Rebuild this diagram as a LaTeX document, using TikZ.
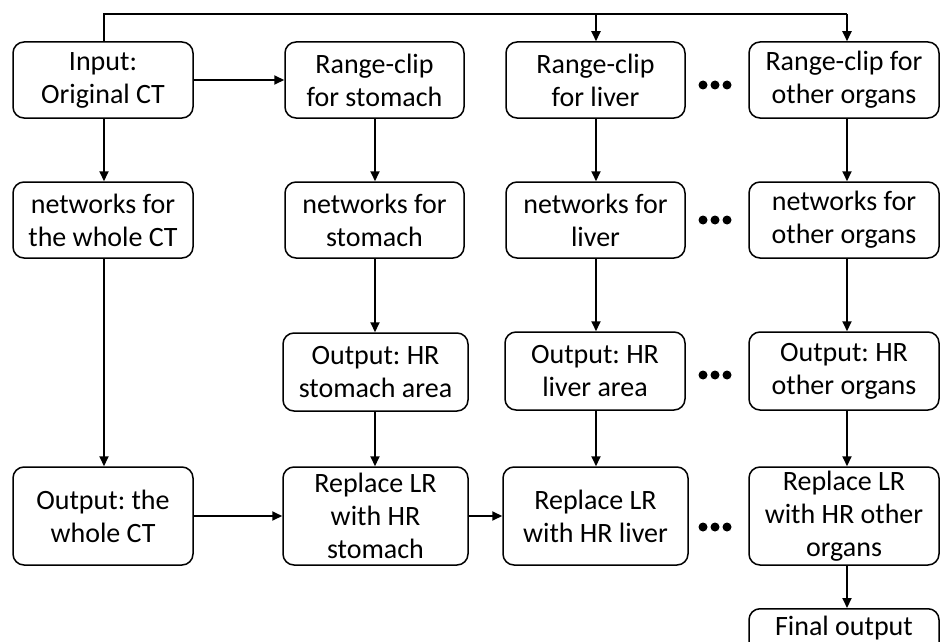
\documentclass[tikz,border=0pt]{standalone}
\usepackage{fontspec}
\setmainfont{Carlito}
\frenchspacing
\usetikzlibrary{arrows.meta}
\begin{document}
\begin{tikzpicture}[x=1pt,y=-1pt,
  box/.style={draw,line width=1.5pt,rounded corners=11pt,align=center,inner sep=0pt,
    font=\fontsize{28}{33}\selectfont},
  arr/.style={line width=2pt,-{Triangle[length=10pt,width=9pt]}},
  ln/.style={line width=2pt}]
\clip (0,0) rectangle (940,642);
\fill[white] (0,0) rectangle (940,642);
% row 1
\node[box,minimum width=180pt,minimum height=76pt] (in) at (103,80) {Input:\\Original CT};
\node[box,minimum width=179pt,minimum height=76pt] (rs) at (374.5,80) {Range-clip\\for stomach};
\node[box,minimum width=179pt,minimum height=76pt] (rl) at (595.5,80) {Range-clip\\for liver};
\node[box,minimum width=190pt,minimum height=76pt] (ro) at (844,80) {Range-clip for\\other organs};
% row 2
\node[box,minimum width=180pt,minimum height=76pt] (nw) at (103,220) {networks for\\the whole CT};
\node[box,minimum width=179pt,minimum height=76pt] (ns) at (374.5,220) {networks for\\stomach};
\node[box,minimum width=179pt,minimum height=76pt] (nl) at (595.5,220) {networks for\\liver};
\node[box,minimum width=190pt,minimum height=76pt] (no) at (844,220) {networks for\\other organs};
% row 3
\node[box,minimum width=185pt,minimum height=78pt] (os) at (375.5,372) {Output: HR\\stomach area};
\node[box,minimum width=180pt,minimum height=78pt] (ol) at (595,371) {Output: HR\\liver area};
\node[box,minimum width=190pt,minimum height=78pt] (oo) at (844,371) {Output: HR\\other organs};
% row 4
\node[box,minimum width=180pt,minimum height=98pt] (ow) at (103,516) {Output: the\\whole CT};
\node[box,minimum width=185pt,minimum height=98pt] (ps) at (375.5,516) {Replace LR\\with HR\\stomach};
\node[box,minimum width=185pt,minimum height=98pt] (pl) at (595.5,516) {Replace LR\\with HR liver};
\node[box,minimum width=190pt,minimum height=98pt] (po) at (844,516) {Replace LR\\with HR other\\organs};
% final
\node[box,minimum width=190pt,minimum height=76pt,anchor=north] (fo) at (844,608) {Final output\\\strut};
% top bus
\coordinate (t0) at (104,14);
\coordinate (t1) at (596,14);
\coordinate (t2) at (847,14);
\coordinate (t3) at (375,14);
\draw[ln] (in.north -| t0) -- (t0) -- (t2);
\draw[arr] (t1) -- (rl.north -| t1);
\draw[arr] (t2) -- (ro.north -| t2);
% arrows
\draw[arr] (in.east) -- (rs.west |- in.east);
\draw[arr] (in.south -| t0) -- (nw.north -| t0);
\draw[arr] (nw.south -| t0) -- (ow.north -| t0);
\draw[arr] (rs.south -| t3) -- (ns.north -| t3);
\draw[arr] (ns.south -| t3) -- (os.north -| t3);
\draw[arr] (os.south -| t3) -- (ps.north -| t3);
\draw[arr] (rl.south -| t1) -- (nl.north -| t1);
\draw[arr] (nl.south -| t1) -- (ol.north -| t1);
\draw[arr] (ol.south -| t1) -- (pl.north -| t1);
\draw[arr] (ro.south -| t2) -- (no.north -| t2);
\draw[arr] (no.south -| t2) -- (oo.north -| t2);
\draw[arr] (oo.south -| t2) -- (po.north -| t2);
\draw[arr] (po.south -| t2) -- (fo.north -| t2);
\draw[arr] (ow.east) -- (ps.west);
\draw[arr] (ps.east) -- (pl.west);
% dots
\foreach \y in {85,220,375,527}{
  \foreach \x in {703,715,727}{\fill (\x,\y) circle (4.5pt);}}
\end{tikzpicture}
\end{document}
